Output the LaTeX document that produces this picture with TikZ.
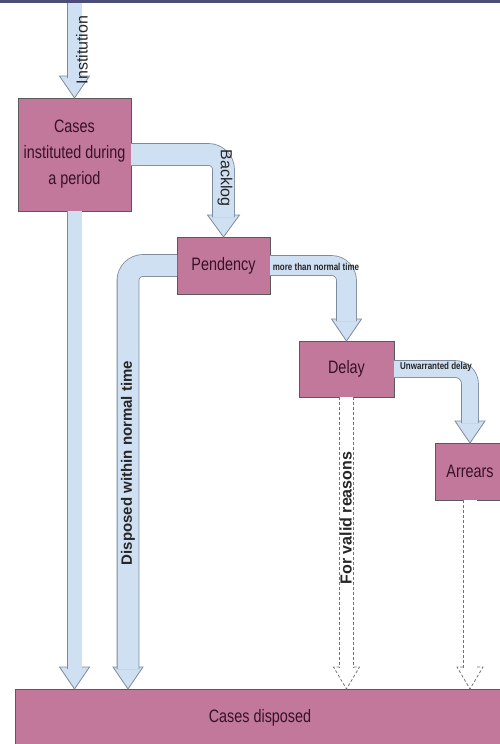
\documentclass[tikz,border=0pt]{standalone}
\usepackage{fontspec}
\setmainfont{Liberation Sans}
\newfontfamily\boxfont{Liberation Sans}[FakeStretch=0.8]
\usetikzlibrary{calc}
\definecolor{boxpink}{RGB}{193,120,155}
\definecolor{boxtext}{RGB}{55,18,38}
\definecolor{pipefill}{RGB}{207,224,242}
\definecolor{pipeline}{RGB}{125,138,155}

\begin{document}
\begin{tikzpicture}[x=1pt,y=-1pt,
    stage/.style={rectangle,draw=black!65,fill=boxpink,line width=0.8pt,inner sep=0pt,outer sep=0pt,
                  text=boxtext,align=center,font=\boxfont\fontsize{18}{26}\selectfont},
    pipe/.style={draw=pipeline,line width=0.8pt,double=pipefill,rounded corners=15pt},
    dpipe/.style={draw=black!55,line width=0.8pt,dash pattern=on 3pt off 2pt,double=white,double distance=13pt},
    tag/.style={inner sep=0pt,text=black!85,font=\fontsize{16}{16}\selectfont},
    bold tag/.style={tag,font=\fontsize{15}{15}\selectfont\bfseries},
    small tag/.style={inner sep=0pt,text=black!85,font=\boxfont\fontsize{10}{10}\selectfont\bfseries},
    head w/.store in=\headw, head w=15,
    ahead/.pic={\filldraw[draw=pipeline,fill=pipefill,line width=0.8pt] (0,0) -- (-\headw,-22) -- (\headw,-22) -- cycle;},
    dhead/.pic={\draw[black!55,dash pattern=on 3pt off 2pt,line width=0.8pt] (-7,-22) -- (-13,-22) -- (0,0) -- (13,-22) -- (7,-22);}]

  \useasboundingbox (0,0) rectangle (500,744);
  \clip (0,0) rectangle (500,744);
  \fill[black!75!blue!70] (0,0) rectangle (500,2.5);

  % stages
  \node[stage,minimum width=113,minimum height=113] (cases) at (74.5,154.5) {Cases\\instituted during\\a period};
  \node[stage,minimum width=93,minimum height=57] (pend) at (223.5,265.5) {Pendency};
  \node[stage,minimum width=95,minimum height=56] (delay) at (346.5,369) {Delay};
  \node[stage,minimum width=70,minimum height=57] (arrears) at (470,471.5) {Arrears};
  \node[stage,minimum width=490,minimum height=58] (disp) at (260,718) {Cases disposed};

  \coordinate (itop) at (74.5,3);
  \coordinate (dtip) at (128,689);

  % solid flows
  \pic at (cases.north) {ahead};
  \draw[pipe,double distance=14pt] (itop) -- ($(cases.north)+(0,-20)$);
  \pic at (cases.south |- disp.north) {ahead};
  \draw[pipe,double distance=14pt] (cases.south) -- ($(cases.south |- disp.north)+(0,-20)$);
  \pic[head w=16] at (pend.north) {ahead};
  \draw[pipe,double distance=21pt] (cases.east) -| ($(pend.north)+(0,-20)$);
  \pic at (dtip) {ahead};
  \draw[pipe,double distance=21pt] (pend.west) -| ($(dtip)+(0,-20)$);
  \pic at (delay.north) {ahead};
  \draw[pipe,double distance=19pt] (pend.east) -| ($(delay.north)+(0,-20)$);
  \pic at (arrears.north) {ahead};
  \draw[pipe,double distance=16pt] (delay.east) -| ($(arrears.north)+(0,-20)$);

  % dashed flows
  \draw[dpipe] (delay.south) -- ($(delay.south |- disp.north)+(0,-21)$);
  \pic at (delay.south |- disp.north) {dhead};
  \draw[dpipe] (arrears.south) -- ($(arrears.south |- disp.north)+(0,-21)$);
  \pic at (arrears.south |- disp.north) {dhead};

  % labels
  \node[tag,rotate=90] (linst) at (82,50) {Institution};
  \node[tag,rotate=-90] (lback) at (225,178) {Backlog};
  \node[bold tag,rotate=90] (lnorm) at (128,463) {Disposed within normal time};
  \node[bold tag,font=\fontsize{16}{16}\selectfont\bfseries,rotate=90] (lvalid) at (346,518) {For valid reasons};
  \node[small tag] (lmore) at (316,267) {more than normal time};
  \node[small tag] (lunw) at (436,367) {Unwarranted delay};
\end{tikzpicture}
\end{document}
